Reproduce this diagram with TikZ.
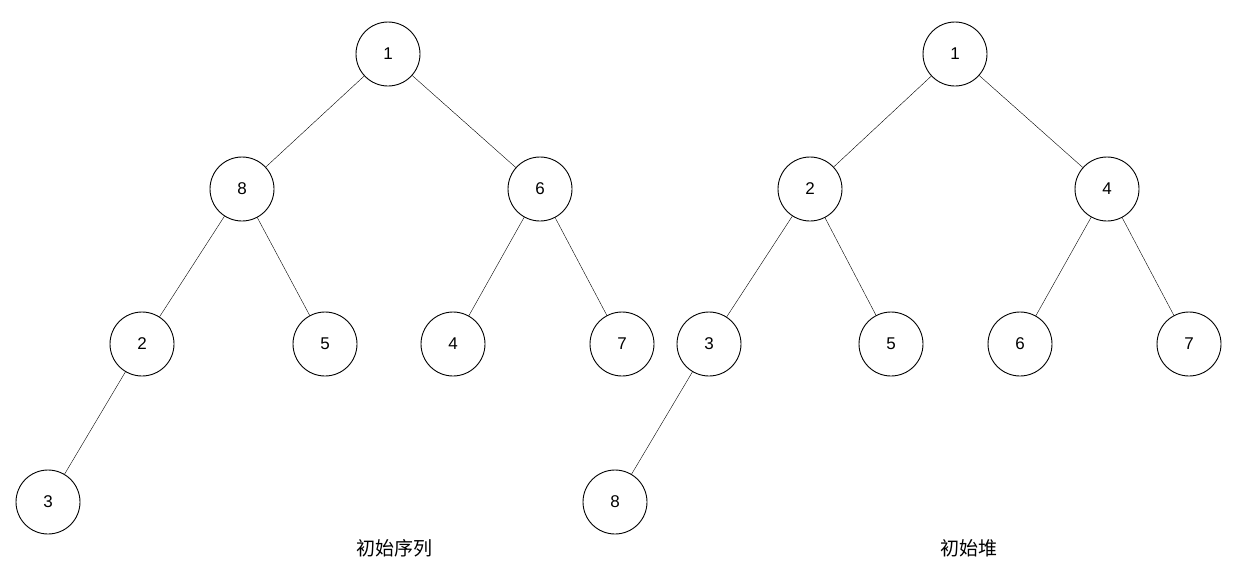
\documentclass[tikz,border=0pt]{standalone}
\usepackage{fontspec}
\setmainfont{Liberation Sans}
\newfontfamily\cjk{Noto Sans CJK SC}
\begin{document}
\begin{tikzpicture}[x=1pt,y=-1pt,
  nd/.style={draw,circle,minimum size=64pt,inner sep=0pt,font=\fontsize{17}{20}\selectfont,line width=0.9pt},
  lbl/.style={font=\cjk\fontsize{19}{22}\selectfont}]
\useasboundingbox (0,0) rectangle (1234,581);
\node[nd] (a1) at (388,54) {1};
\node[nd] (a8) at (242,189) {8};
\node[nd] (a6) at (540,189) {6};
\node[nd] (a2) at (142,344) {2};
\node[nd] (a5) at (325,344) {5};
\node[nd] (a4) at (453,344) {4};
\node[nd] (a7) at (622,344) {7};
\node[nd] (a3) at (48,502) {3};
\draw (a1)--(a8) (a1)--(a6) (a8)--(a2) (a8)--(a5) (a6)--(a4) (a6)--(a7) (a2)--(a3);
\node[nd] (b1) at (955,54) {1};
\node[nd] (b2) at (810,189) {2};
\node[nd] (b4) at (1107,189) {4};
\node[nd] (b3) at (709,344) {3};
\node[nd] (b5) at (891,344) {5};
\node[nd] (b6) at (1020,344) {6};
\node[nd] (b7) at (1189,344) {7};
\node[nd] (b8) at (615,502) {8};
\draw (b1)--(b2) (b1)--(b4) (b2)--(b3) (b2)--(b5) (b4)--(b6) (b4)--(b7) (b3)--(b8);
\node[lbl] (t1) at (394,548) {初始序列};
\node[lbl] (t2) at (969,548) {初始堆};
\end{tikzpicture}
\end{document}
